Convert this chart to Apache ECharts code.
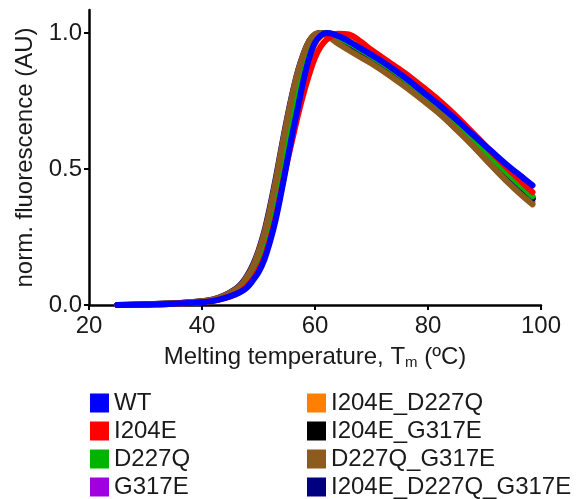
<!DOCTYPE html>
<html>
<head>
<meta charset="utf-8">
<script src="https://cdn.jsdelivr.net/npm/echarts@6/dist/echarts.min.js"></script>
<style>
html,body{margin:0;padding:0;background:#fff;}
#chart{width:583px;height:499px;}
</style>
</head>
<body>
<div id="chart"></div>
<script>
// Shared temperature grid (ºC)
var temps = [25, 30, 35, 40, 42, 44, 46, 47, 48, 49, 50, 51, 52, 53, 54, 55, 56, 57, 58, 59, 60, 61, 62, 63, 64, 66, 68, 70, 73, 76, 79, 82, 85, 88, 91, 94, 97, 98.5];

// Normalised fluorescence per construct
var wt        = [0.000, 0.002, 0.005, 0.010, 0.015, 0.025, 0.040, 0.050, 0.065, 0.090, 0.120, 0.165, 0.230, 0.310, 0.410, 0.520, 0.630, 0.730, 0.830, 0.910, 0.965, 0.990, 1.000, 0.998, 0.990, 0.970, 0.945, 0.920, 0.880, 0.835, 0.785, 0.735, 0.682, 0.625, 0.570, 0.515, 0.465, 0.440];
var i204e     = [0.000, 0.002, 0.005, 0.010, 0.015, 0.025, 0.040, 0.052, 0.070, 0.095, 0.130, 0.175, 0.240, 0.320, 0.420, 0.520, 0.610, 0.700, 0.780, 0.850, 0.910, 0.950, 0.975, 0.990, 0.998, 0.995, 0.970, 0.938, 0.895, 0.852, 0.803, 0.752, 0.695, 0.632, 0.568, 0.505, 0.445, 0.415];
var d227q     = [0.000, 0.002, 0.005, 0.012, 0.018, 0.030, 0.048, 0.062, 0.085, 0.115, 0.160, 0.220, 0.300, 0.390, 0.500, 0.610, 0.710, 0.800, 0.880, 0.940, 0.980, 0.997, 1.000, 0.995, 0.985, 0.965, 0.940, 0.915, 0.875, 0.830, 0.778, 0.724, 0.666, 0.606, 0.546, 0.486, 0.428, 0.400];
var g317e     = [0.000, 0.002, 0.005, 0.012, 0.018, 0.030, 0.050, 0.065, 0.090, 0.120, 0.165, 0.225, 0.305, 0.400, 0.510, 0.620, 0.720, 0.810, 0.885, 0.945, 0.982, 0.998, 1.000, 0.994, 0.984, 0.962, 0.937, 0.910, 0.870, 0.825, 0.773, 0.719, 0.661, 0.601, 0.541, 0.481, 0.423, 0.395];
var i204eD227q= [0.000, 0.002, 0.005, 0.011, 0.016, 0.027, 0.044, 0.057, 0.077, 0.105, 0.145, 0.200, 0.275, 0.365, 0.470, 0.575, 0.675, 0.765, 0.845, 0.910, 0.960, 0.988, 1.000, 0.998, 0.992, 0.975, 0.952, 0.925, 0.882, 0.835, 0.782, 0.728, 0.670, 0.608, 0.543, 0.476, 0.410, 0.380];
var i204eG317e= [0.000, 0.002, 0.006, 0.013, 0.020, 0.033, 0.055, 0.072, 0.100, 0.135, 0.185, 0.250, 0.335, 0.435, 0.545, 0.655, 0.755, 0.840, 0.910, 0.960, 0.990, 1.000, 0.997, 0.988, 0.976, 0.952, 0.927, 0.900, 0.860, 0.812, 0.760, 0.706, 0.648, 0.588, 0.526, 0.466, 0.414, 0.390];
var d227qG317e= [0.000, 0.002, 0.006, 0.014, 0.021, 0.035, 0.058, 0.076, 0.105, 0.142, 0.195, 0.262, 0.350, 0.452, 0.565, 0.675, 0.775, 0.860, 0.925, 0.972, 0.996, 1.000, 0.992, 0.978, 0.963, 0.937, 0.912, 0.888, 0.847, 0.802, 0.754, 0.704, 0.646, 0.584, 0.518, 0.454, 0.396, 0.370];
var triple    = [0.000, 0.002, 0.006, 0.014, 0.021, 0.036, 0.060, 0.079, 0.108, 0.147, 0.200, 0.268, 0.358, 0.460, 0.572, 0.680, 0.778, 0.862, 0.926, 0.972, 0.995, 1.000, 0.995, 0.985, 0.972, 0.948, 0.925, 0.902, 0.860, 0.815, 0.765, 0.712, 0.652, 0.586, 0.520, 0.456, 0.410, 0.390];

var names  = ['WT', 'I204E', 'D227Q', 'G317E', 'I204E_D227Q', 'I204E_G317E', 'D227Q_G317E', 'I204E_D227Q_G317E'];
var colors = ['#0000ff', '#ff0000', '#00b400', '#a000e0', '#ff8000', '#000000', '#8e5b1e', '#000080'];
var values = [wt, i204e, d227q, g317e, i204eD227q, i204eG317e, d227qG317e, triple];

var yTicks = [0, 0.5, 1.0];

// drawing order (last on top)
var drawOrder = [3, 4, 5, 7, 2, 6, 1, 0];

var series = drawOrder.map(function (k) {
  return {
    name: names[k],
    type: 'line',
    data: temps.map(function (t, i) { return [t, values[k][i]]; }),
    showSymbol: false,
    symbol: 'none',
    smooth: 0.35,
    color: colors[k],
    lineStyle: { width: 6, color: colors[k], cap: 'round', join: 'round' },
    animation: false
  };
});

var font = 'Liberation Sans, Arial, sans-serif';
var txt = '#1a1a1a';
var fs = 24;

var chart = echarts.init(document.getElementById('chart'), null, { renderer: 'canvas' });
chart.setOption({
  backgroundColor: '#ffffff',
  animation: false,
  grid: { left: 89, right: 42, top: 10, bottom: 194, containLabel: false },
  xAxis: {
    type: 'value',
    min: 20, max: 100, interval: 20,
    name: 'Melting temperature, T{sub|m} (ºC)',
    nameLocation: 'middle',
    nameGap: 39,
    nameTextStyle: {
      fontFamily: font, fontSize: fs, color: txt,
      rich: { sub: { fontFamily: font, fontSize: 15, color: txt, padding: [11, 0, 0, 0] } }
    },
    axisLine: { show: true, lineStyle: { color: '#000', width: 2.5 } },
    axisTick: { show: true, length: 5, lineStyle: { color: '#000', width: 2 } },
    axisLabel: { fontFamily: font, fontSize: fs, color: txt, margin: 9 },
    splitLine: { show: false }
  },
  yAxis: {
    type: 'value',
    min: 0, max: 1.085,
    name: 'norm. fluorescence (AU)',
    nameLocation: 'middle',
    nameGap: 50,
    nameTextStyle: { fontFamily: font, fontSize: fs, color: txt },
    axisLine: { show: true, lineStyle: { color: '#000', width: 2.5 } },
    axisTick: { show: true, length: 5, lineStyle: { color: '#000', width: 2 }, customValues: yTicks },
    axisLabel: {
      fontFamily: font, fontSize: fs, color: txt, margin: 7,
      customValues: yTicks,
      formatter: function (v) { return v.toFixed(1); }
    },
    splitLine: { show: false }
  },
  legend: [
    {
      data: names.slice(0, 4),
      orient: 'vertical', left: 90, top: 391, padding: 0,
      itemWidth: 19, itemHeight: 19, itemGap: 4, icon: 'rect',
      textStyle: { fontFamily: font, fontSize: fs, color: txt, lineHeight: 24 }
    },
    {
      data: names.slice(4),
      orient: 'vertical', left: 307, top: 391, padding: 0,
      itemWidth: 19, itemHeight: 19, itemGap: 4, icon: 'rect',
      textStyle: { fontFamily: font, fontSize: fs, color: txt, lineHeight: 24 }
    }
  ],
  series: series
});
</script>
</body>
</html>
